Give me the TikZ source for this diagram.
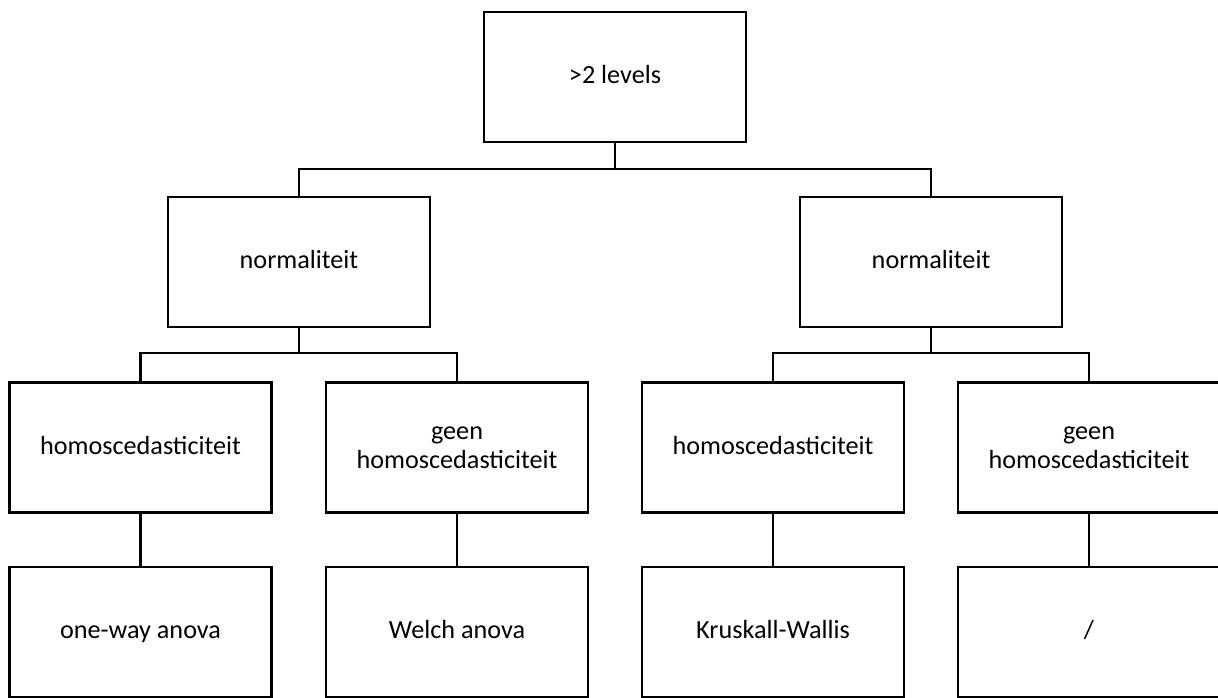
\documentclass[tikz,border=0pt]{standalone}
\usepackage{fontspec}
\setmainfont{Carlito}
\usetikzlibrary{positioning,calc}

\begin{document}
\begin{tikzpicture}[
  x=0.5pt, y=-0.5pt,
  box/.style={
    rectangle, draw=black, line width=1.3pt,
    minimum width=131pt, minimum height=65pt,
    align=center, inner sep=0pt,
    font=\fontsize{13.1}{14.6}\selectfont
  },
  oneline/.style={text height=8.8pt, text depth=2pt},
  link/.style={line width=1.3pt, black}
]

% ---- Page frame ----
\useasboundingbox (0,0) rectangle (1218,697);

% ---- Level 0 ----
\node[box, oneline] (lvl) at (615,77) {>2 levels};

% ---- Level 1 ----
\node[box, oneline] (normL) at (299,262) {normaliteit};
\node[box, oneline] (normR) at (931,262) {normaliteit};

% ---- Level 2 ----
\node[box, oneline] (homL)  at (140.5,447.5) {homoscedasticiteit};
\node[box]          (geenL) at (457,447.5)   {geen\\homoscedasticiteit};
\node[box, oneline] (homR)  at (773,447.5)   {homoscedasticiteit};
\node[box]          (geenR) at (1089,447.5)  {geen\\homoscedasticiteit};

% ---- Level 3 ----
\node[box, oneline] (oneway)  at (140.5,632) {one-way anova};
\node[box, oneline] (welch)   at (457,632)   {Welch anova};
\node[box, oneline] (kruskal) at (773,632)   {Kruskall-Wallis};
\node[box, oneline] (none)    at (1089,632)  {/};

% ---- Junctions ----
\coordinate (j0) at (615,169);
\coordinate (jL) at (299,353);
\coordinate (jR) at (931,353);

% ---- Connectors ----
\draw[link] (lvl.south) -- (j0);
\draw[link] (normL.north) |- (j0) -| (normR.north);

\draw[link] (normL.south) -- (jL);
\draw[link] (homL.north) |- (jL) -| (geenL.north);

\draw[link] (normR.south) -- (jR);
\draw[link] (homR.north) |- (jR) -| (geenR.north);

\foreach \a/\b in {homL/oneway, geenL/welch, homR/kruskal, geenR/none} {
  \draw[link] (\a) -- (\b);
}

\end{tikzpicture}
\end{document}
